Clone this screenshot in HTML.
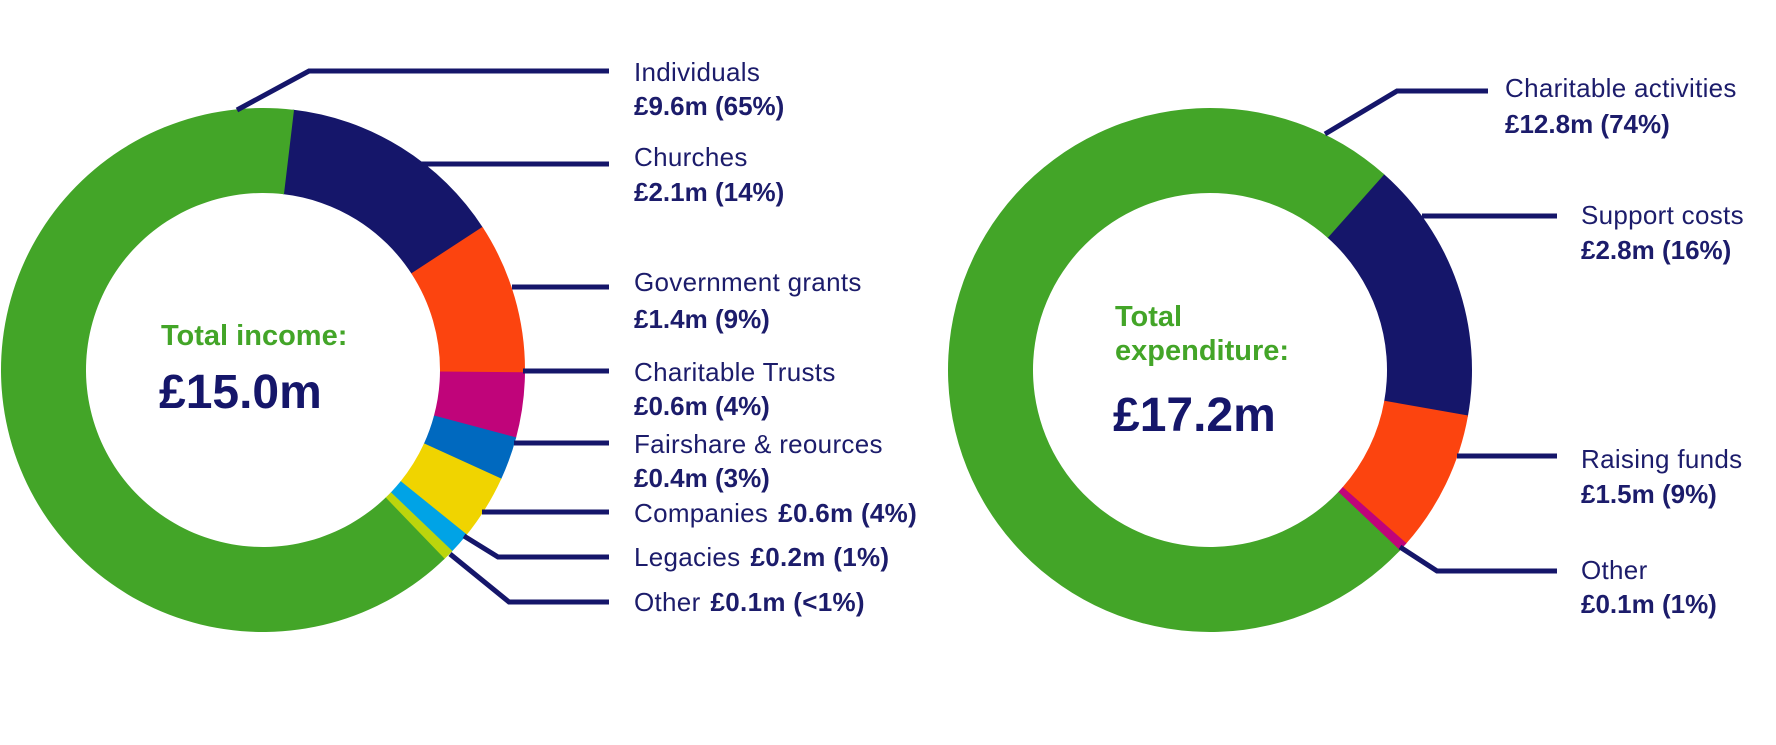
<!DOCTYPE html>
<html><head><meta charset="utf-8">
<style>
html,body{margin:0;padding:0;background:#fff;}
body{width:1776px;height:740px;overflow:hidden;font-family:"Liberation Sans",sans-serif;}
svg text{font-family:"Liberation Sans",sans-serif;}
</style></head>
<body>
<svg id="chart" width="1776" height="740" viewBox="0 0 1776 740" xmlns="http://www.w3.org/2000/svg">
  <g id="donut-left"></g>
  <g id="donut-right"></g>
  <g id="leaders" stroke="#15166a" stroke-width="5" fill="none"></g>
  <g id="labels" fill="#1c1c6b" font-size="26"></g>
  <text x="161" y="345" fill="#43a528" font-weight="bold" font-size="29">Total income:</text>
  <text x="159" y="408" fill="#15166a" font-weight="bold" font-size="48">£15.0m</text>
  <text x="1115" y="326" fill="#43a528" font-weight="bold" font-size="29">Total</text>
  <text x="1115" y="360" fill="#43a528" font-weight="bold" font-size="29">expenditure:</text>
  <text x="1113" y="431" fill="#15166a" font-weight="bold" font-size="48">£17.2m</text>
</svg>
<script>
// Income data (£m), clockwise from the top, starting with Churches
const incomeCategories = ["Churches","Government grants","Charitable Trusts","Fairshare & reources","Companies","Legacies","Other","Individuals"];
const incomeValues = [2.1,1.4,0.6,0.4,0.6,0.2,0.1,9.6];
const incomeLabels = ["£2.1m (14%)","£1.4m (9%)","£0.6m (4%)","£0.4m (3%)","£0.6m (4%)","£0.2m (1%)","£0.1m (<1%)","£9.6m (65%)"];
const incomeColors = ["#15166a","#fc440f","#c0047a","#0069bf","#f0d400","#00a3e6","#bcd50c","#43a528"];
// Expenditure data (£m), clockwise from Support costs
const expCategories = ["Support costs","Raising funds","Other","Charitable activities"];
const expValues = [2.8,1.5,0.1,12.8];
const expLabels = ["£2.8m (16%)","£1.5m (9%)","£0.1m (1%)","£12.8m (74%)"];
const expColors = ["#15166a","#fc440f","#c0047a","#43a528"];

const NS="http://www.w3.org/2000/svg";
function pt(cx,cy,r,a){const t=(a-90)*Math.PI/180;return [cx+r*Math.cos(t),cy+r*Math.sin(t)];}
function arc(cx,cy,R,r,a0,a1){
  const large=(a1-a0)>180?1:0;
  const p1=pt(cx,cy,R,a0),p2=pt(cx,cy,R,a1),p3=pt(cx,cy,r,a1),p4=pt(cx,cy,r,a0);
  return `M${p1[0]},${p1[1]} A${R},${R} 0 ${large} 1 ${p2[0]},${p2[1]} L${p3[0]},${p3[1]} A${r},${r} 0 ${large} 0 ${p4[0]},${p4[1]} Z`;
}
function drawDonut(gid,cx,cy,R,r,start,vals,cols,names){
  const g=document.getElementById(gid);
  const total=vals.reduce((a,b)=>a+b,0);
  let a=start;
  vals.forEach((v,i)=>{
    const sweep=v/total*360;
    const p=document.createElementNS(NS,"path");
    p.setAttribute("d",arc(cx,cy,R,r,a,a+sweep+0.3));
    p.setAttribute("fill",cols[i]);
    
    
    g.appendChild(p);
    a+=sweep;
  });
}
drawDonut("donut-left",263,370,262,177,6.5,incomeValues,incomeColors,incomeCategories);
drawDonut("donut-right",1210,370,262,177,41.4,expValues,expColors,expCategories);

const leaders=[
 "M237,110 L309,71 L609,71",
 "M421,164 L609,164",
 "M512,287 L609,287",
 "M523,371 L609,371",
 "M514,443 L609,443",
 "M482,512 L609,512",
 "M464,536 L498,557 L609,557",
 "M450,554 L509,602 L609,602",
 "M1325,134 L1397,91 L1488,91",
 "M1422,216 L1557,216",
 "M1457,456 L1557,456",
 "M1400,547 L1437,571 L1557,571"
];
const lg=document.getElementById("leaders");
leaders.forEach(d=>{
  const p=document.createElementNS(NS,"path");p.setAttribute("d",d);
  
  
  lg.appendChild(p);
});

// label layout: [name, value, x, nameCenterY, valueCenterY or null (inline)]
const labelLayout=[
 [incomeCategories[7],incomeLabels[7],634,72,106],
 [incomeCategories[0],incomeLabels[0],634,157,192],
 [incomeCategories[1],incomeLabels[1],634,282,319],
 [incomeCategories[2],incomeLabels[2],634,372,406],
 [incomeCategories[3],incomeLabels[3],634,444,478],
 [incomeCategories[4],incomeLabels[4],634,513,null],
 [incomeCategories[5],incomeLabels[5],634,557,null],
 [incomeCategories[6],incomeLabels[6],634,602,null],
 [expCategories[3],expLabels[3],1505,88,124],
 [expCategories[0],expLabels[0],1581,215,250],
 [expCategories[1],expLabels[1],1581,459,494],
 [expCategories[2],expLabels[2],1581,570,604]
];
const lb=document.getElementById("labels");
labelLayout.forEach(([n,v,x,y1,y2])=>{
  const t=document.createElementNS(NS,"text");
  t.setAttribute("x",x);t.setAttribute("y",y1+9);
  t.setAttribute("letter-spacing","0.3");
  
  
  t.appendChild(document.createTextNode(n));
  if(y2===null){
    const s=document.createElementNS(NS,"tspan");
    s.setAttribute("font-weight","bold");s.setAttribute("dx","10");
    s.textContent=v;t.appendChild(s);
    lb.appendChild(t);
  } else {
    lb.appendChild(t);
    const t2=document.createElementNS(NS,"text");
    t2.setAttribute("x",x);t2.setAttribute("y",y2+9);
    t2.setAttribute("font-weight","bold");
    
    
    t2.textContent=v;lb.appendChild(t2);
  }
});
</script>
</body></html>
